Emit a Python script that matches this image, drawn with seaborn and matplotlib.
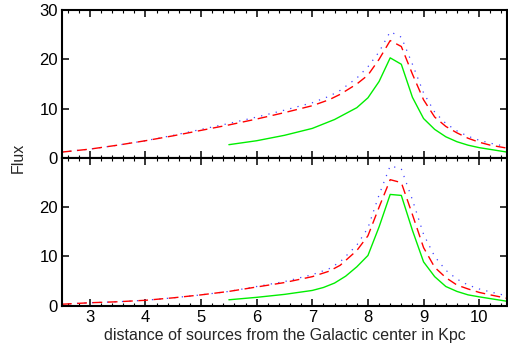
import matplotlib
matplotlib.use("Agg")
import matplotlib.pyplot as plt
import seaborn as sns
import numpy as np
import pandas as pd
from matplotlib.ticker import MultipleLocator

# ---------------- data ----------------
x_full = [2.5, 3.0, 3.5, 4.0, 4.5, 5.0, 5.5, 6.0, 6.5, 7.0, 7.3, 7.5, 7.8, 8.0,
          8.2, 8.4, 8.6, 8.8, 9.0, 9.2, 9.4, 9.6, 9.8, 10.0, 10.2, 10.5]
x_green = [5.5, 6.0, 6.5, 7.0, 7.2, 7.4, 7.6, 7.8, 8.0, 8.2, 8.4, 8.6, 8.8, 9.0,
           9.2, 9.4, 9.6, 9.8, 10.0, 10.5]

top_red = [1.2, 1.8, 2.6, 3.5, 4.5, 5.6, 6.7, 7.9, 9.2, 10.6, 11.8, 12.9, 15.0, 16.8,
           20.0, 23.8, 22.6, 17.0, 11.8, 8.3, 6.4, 5.1, 4.0, 3.2, 2.6, 2.0]
top_blue = [1.2, 1.8, 2.6, 3.5, 4.6, 5.8, 7.0, 8.3, 9.7, 11.2, 12.5, 13.7, 16.2, 18.5,
            21.5, 25.6, 24.5, 19.0, 13.2, 9.3, 7.0, 5.5, 4.4, 3.6, 3.0, 2.3]
top_green = [2.7, 3.5, 4.6, 6.0, 6.9, 7.8, 9.0, 10.2, 12.2, 15.5, 20.3, 19.0, 12.3, 8.0,
             5.8, 4.3, 3.3, 2.6, 2.1, 1.2]

bot_red = [0.3, 0.6, 0.8, 1.1, 1.6, 2.2, 2.9, 3.8, 4.7, 5.9, 7.0, 8.2, 11.2, 14.2,
           20.0, 25.6, 25.0, 18.5, 11.8, 7.8, 5.7, 4.2, 3.4, 2.7, 2.2, 1.5]
bot_blue = [0.3, 0.6, 0.8, 1.1, 1.6, 2.2, 2.9, 3.9, 4.9, 6.3, 7.5, 8.9, 12.3, 15.8,
            22.5, 28.4, 27.8, 21.5, 14.5, 10.0, 7.2, 5.4, 4.2, 3.4, 2.8, 2.0]
bot_green = [1.2, 1.7, 2.3, 3.1, 3.7, 4.6, 6.0, 7.9, 10.2, 16.0, 22.6, 22.4, 15.3, 8.9,
             5.9, 3.9, 2.9, 2.2, 1.8, 0.9]

xlabel = "distance of sources from the Galactic center in Kpc"
ylabel = "Flux"
xticks = [3, 4, 5, 6, 7, 8, 9, 10]
yticks_top = [0, 10, 20, 30]
yticks_bot = [0, 10, 20]

# ---------------- style ----------------
sns.set_theme(style="ticks")
plt.rcParams['font.family'] = ['Liberation Sans', 'DejaVu Sans']
plt.rcParams['axes.linewidth'] = 1.5

fig = plt.figure(figsize=(5.08, 3.45), dpi=100)
L, R = 62 / 508, 507 / 508
ax1 = fig.add_axes([L, 1 - 158 / 345, R - L, (158 - 10) / 345])
ax2 = fig.add_axes([L, 1 - 305.7 / 345, R - L, (305.7 - 158) / 345])

RED = "#ff0000"
BLUE = "#4444ff"
GREEN = "#00ee00"

def draw(ax, red, blue, green, yt):
    sns.lineplot(x=x_full, y=blue, ax=ax, color=BLUE, lw=0.9,
                 linestyle=(0, (1, 5)), estimator=None, sort=False)
    sns.lineplot(x=x_full, y=red, ax=ax, color=RED, lw=1.0,
                 linestyle=(0, (7, 4)), estimator=None, sort=False)
    sns.lineplot(x=x_green, y=green, ax=ax, color=GREEN, lw=1.0,
                 estimator=None, sort=False)
    ax.set_xlim(2.5, 10.5)
    ax.set_ylim(0, 30)
    ax.set_xticks(xticks)
    ax.xaxis.set_minor_locator(MultipleLocator(0.2))
    ax.set_yticks(yt)
    ax.tick_params(which="both", direction="in", top=True, right=True,
                   colors="black", labelsize=12, pad=3)
    ax.tick_params(which="major", length=5, width=1.1)
    ax.tick_params(which="minor", length=2.5, width=0.8)
    ax.set_xlabel("")
    ax.set_ylabel("")
    for s in ax.spines.values():
        s.set_color("black")

draw(ax1, top_red, top_blue, top_green, yticks_top)
draw(ax2, bot_red, bot_blue, bot_green, yticks_bot)
ax1.tick_params(labelbottom=False)
ax2.set_xlabel(xlabel, fontsize=11.5, labelpad=2)
fig.text(18 / 508, 1 - 158 / 345, ylabel, rotation=90, fontsize=11.5,
         ha="center", va="center")

fig.savefig("out.png", dpi=100)
